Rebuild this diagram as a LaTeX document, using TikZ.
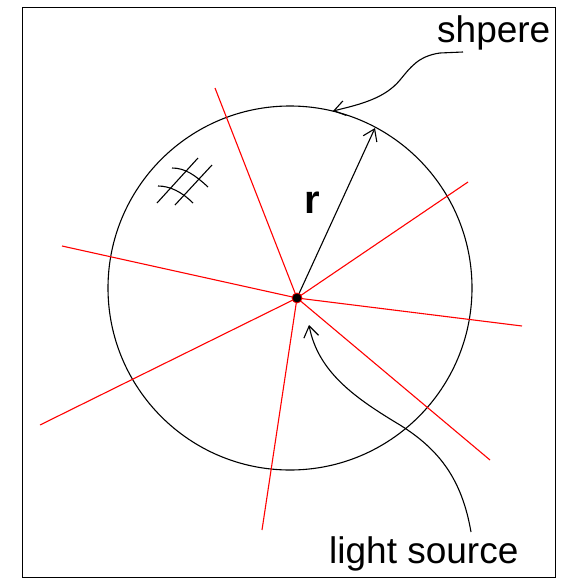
\documentclass[tikz,border=0pt]{standalone}
\usepackage{fontspec}
\setmainfont{Liberation Sans}
\usetikzlibrary{arrows.meta}
\begin{document}
\begin{tikzpicture}[x=1pt,y=-1pt,
  ray/.style={red, line width=1.1pt},
  ink/.style={black, line width=1.1pt},
  barb/.style={-{Straight Barb[length=11pt,width=15pt,line width=1.1pt]}},
  lbl/.style={font=\fontsize{37}{40}\selectfont, inner sep=0pt, anchor=base west}]
\useasboundingbox (0,0) rectangle (568,581);
\draw[line width=1.5pt] (22.5,7.5) rectangle (555.5,577.5);
\node[draw, circle, minimum size=364pt, inner sep=0pt, line width=1.1pt] (sphere) at (290,288) {};
% rays
\coordinate (s) at (297,298);
\coordinate (e1) at (215,88);
\coordinate (e2) at (468,182);
\coordinate (e3) at (522,326);
\coordinate (e4) at (490,460);
\coordinate (e5) at (262,530);
\coordinate (e6) at (40,425);
\coordinate (e7) at (62,246);
\foreach \e in {e1,e2,e3,e4,e5,e6,e7} \draw[ray] (s) -- (\e);
% radius arrow
\coordinate (rt) at (375,128);
\draw[ink,barb] (s) -- (rt);
\node[font=\bfseries\fontsize{40}{44}\selectfont, inner sep=0pt, anchor=base west] (rlbl) at (304,213) {r};
% source dot
\node[circle, fill=black, draw=red, line width=0.8pt, minimum size=10pt, inner sep=0pt] (src) at (s) {};
% labels
\node[lbl] (sh) at (437,42) {shpere};
\node[lbl] (ls) at (329,563) {light source};
\coordinate (shs) at (463,52);
\coordinate (sht) at (333,111);
\draw[ink,barb] (shs) -- (440,53) .. controls (418,56) and (410,68) .. (400,80) .. controls (385,98) and (362,104) .. (sht);
\coordinate (lss) at (471,532);
\coordinate (lst) at (309,325);
\draw[ink,barb] (lss) .. controls (462,480) and (440,450) .. (400,425) .. controls (355,398) and (318,372) .. (lst);
% hatch mark
\draw[ink] (157,203) -- (198,158);
\draw[ink] (175,205) -- (212,165);
\draw[ink] (172,168) .. controls (185,168) and (195,175) .. (208,187);
\draw[ink] (158,186) .. controls (170,186) and (182,192) .. (193,203);
\end{tikzpicture}
\end{document}
